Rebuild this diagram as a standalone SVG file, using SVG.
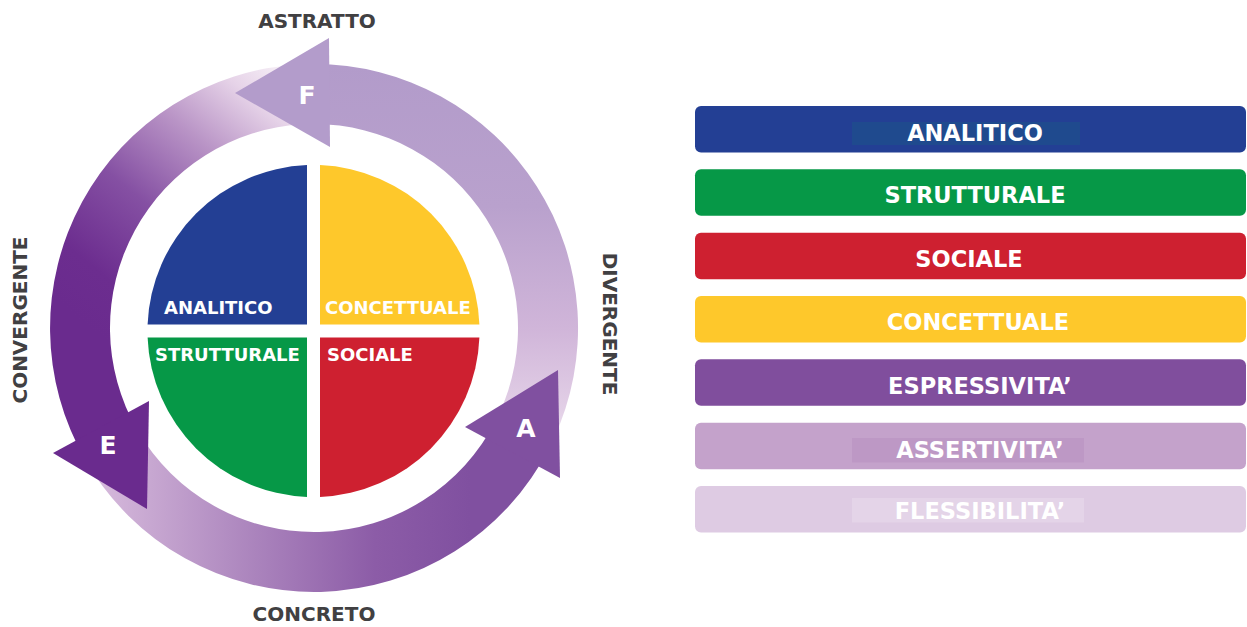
<svg xmlns="http://www.w3.org/2000/svg" width="1247" height="627" viewBox="0 0 1247 627">
<style>
text{font-family:"DejaVu Sans","Liberation Sans",sans-serif;font-weight:bold}
.axis{font-size:20px;fill:#414042}
.q{font-size:18px;fill:#ffffff}
.lg{font-size:22.5px;fill:#ffffff;text-anchor:middle}
.let{font-size:25px;fill:#ffffff;text-anchor:middle}
</style>
<defs>
<linearGradient id="gF" gradientUnits="userSpaceOnUse" x1="0" y1="64" x2="0" y2="470">
<stop offset="0" stop-color="#b29bca"/><stop offset="0.35" stop-color="#b9a1cd"/><stop offset="0.65" stop-color="#d0b5d9"/><stop offset="0.85" stop-color="#e2cfe6"/><stop offset="1" stop-color="#f8f2f8"/>
</linearGradient>
<linearGradient id="gE" gradientUnits="userSpaceOnUse" x1="290" y1="65" x2="80" y2="320">
<stop offset="0" stop-color="#f8f2f8"/><stop offset="0.15" stop-color="#e6d3e8"/><stop offset="0.35" stop-color="#b994c6"/><stop offset="0.6" stop-color="#8550a3"/><stop offset="0.85" stop-color="#6c2d8f"/><stop offset="1" stop-color="#6a2b8e"/>
</linearGradient>
<linearGradient id="gA" gradientUnits="userSpaceOnUse" x1="90" y1="0" x2="470" y2="0">
<stop offset="0" stop-color="#d8bcdd"/><stop offset="0.4" stop-color="#ae88bf"/><stop offset="0.75" stop-color="#8c5ca7"/><stop offset="1" stop-color="#8050a0"/>
</linearGradient>
</defs>
<rect width="1247" height="627" fill="#ffffff"/>

<g id="labels">
<text class="axis" x="317" y="28" text-anchor="middle">ASTRATTO</text>
<text class="axis" x="314" y="621" text-anchor="middle">CONCRETO</text>
<text class="axis" transform="translate(27,320) rotate(-90)" text-anchor="middle">CONVERGENTE</text>
<text class="axis" transform="translate(603,324) rotate(90)" text-anchor="middle">DIVERGENTE</text>
</g>

<g id="connectors">
<path d="M553.3,439.6 A264,264 0 0 0 314,64 L314,124 A204,204 0 0 1 498.9,414.2 Z" fill="url(#gF)"/>
<path d="M300.2,64.4 A264,264 0 0 0 85.4,460 L137.3,430 A204,204 0 0 1 303.3,124.3 Z" fill="url(#gE)"/>
<path d="M85.4,460 A264,264 0 0 0 549.2,447.9 L495.8,420.6 A204,204 0 0 1 137.3,430 Z" fill="url(#gA)"/>
<g id="arrow-F"><polygon points="329,38 330,147 235,93" fill="#b39ccb"/><text class="let" x="307" y="104">F</text></g>
<g id="arrow-E"><polygon points="149,401 147,509 53,453" fill="#6a2b8e"/><text class="let" x="108" y="454">E</text></g>
<g id="arrow-A"><polygon points="558,370 560,478 465,427" fill="#8050a0"/><text class="let" x="526" y="437">A</text></g>
</g>

<g id="q-analitico"><path d="M307,324.5 V165.1 A166,166 0 0 0 147.6,324.5 Z" fill="#233f94"/><text class="q" x="164" y="314">ANALITICO</text></g>
<g id="q-concettuale"><path d="M320,324.5 V165.1 A166,166 0 0 1 479.4,324.5 Z" fill="#fec82b"/><text class="q" x="325" y="314">CONCETTUALE</text></g>
<g id="q-strutturale"><path d="M307,337.5 H147.6 A166,166 0 0 0 307,496.9 Z" fill="#069847"/><text class="q" x="155" y="361">STRUTTURALE</text></g>
<g id="q-sociale"><path d="M320,337.5 H479.4 A166,166 0 0 1 320,496.9 Z" fill="#ce2030"/><text class="q" x="327" y="361">SOCIALE</text></g>

<g id="lg-analitico"><rect x="695" y="106" width="551" height="46.5" rx="6" fill="#233f94"/><rect x="852" y="122" width="228" height="23" fill="#1f4a8e"/><text class="lg" x="975" y="141">ANALITICO</text></g>
<g id="lg-strutturale"><rect x="695" y="169.3" width="551" height="46.5" rx="6" fill="#069847"/><text class="lg" x="975" y="203">STRUTTURALE</text></g>
<g id="lg-sociale"><rect x="695" y="232.7" width="551" height="46.5" rx="6" fill="#ce2030"/><text class="lg" x="969" y="267">SOCIALE</text></g>
<g id="lg-concettuale"><rect x="695" y="296" width="551" height="46.5" rx="6" fill="#fec82b"/><text class="lg" x="978" y="330">CONCETTUALE</text></g>
<g id="lg-espressivita"><rect x="695" y="359.3" width="551" height="46.5" rx="6" fill="#804e9d"/><text class="lg" x="980" y="393.5">ESPRESSIVITA’</text></g>
<g id="lg-assertivita"><rect x="695" y="422.7" width="551" height="46.5" rx="6" fill="#c4a2cb"/><rect x="852" y="438" width="232" height="24.5" fill="#bd98c5"/><text class="lg" x="980" y="458">ASSERTIVITA’</text></g>
<g id="lg-flessibilita"><rect x="695" y="486" width="551" height="46.5" rx="6" fill="#decbe3"/><rect x="852" y="498" width="232" height="24.5" fill="#e4d4e8"/><text class="lg" x="980" y="518.5">FLESSIBILITA’</text></g>
</svg>
